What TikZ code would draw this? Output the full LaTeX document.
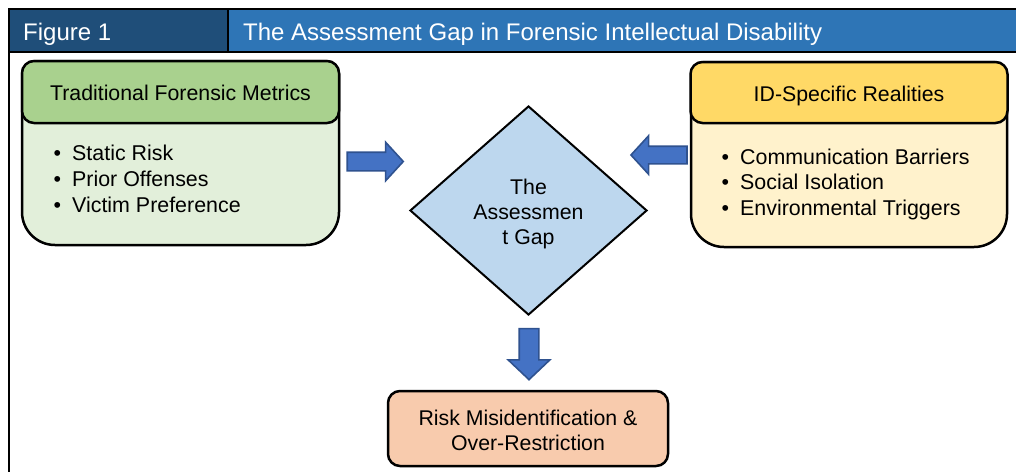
\documentclass[tikz,border=0pt]{standalone}
\usepackage{fontspec}
\setmainfont{Liberation Sans}
\usetikzlibrary{shapes.geometric,shapes.arrows}

\definecolor{figdark}{HTML}{1F4E79}
\definecolor{figblue}{HTML}{2E75B6}
\definecolor{greenhead}{HTML}{A9D18E}
\definecolor{greenbody}{HTML}{E2EFDA}
\definecolor{yellowhead}{HTML}{FFD966}
\definecolor{yellowbody}{HTML}{FFF2CC}
\definecolor{gapfill}{HTML}{BDD7EE}
\definecolor{outfill}{HTML}{F8CBAD}
\definecolor{arrowfill}{HTML}{4472C4}
\definecolor{arrowline}{HTML}{2F528F}

\tikzset{
  frame/.style={line width=2.5pt},
  figtext/.style={text=white,inner sep=0pt,font=\fontsize{24}{28}\selectfont},
  panel/.style={draw=black,line width=2.5pt},
  panelhead/.style={draw=black,line width=2.5pt,rounded corners=12pt,minimum width=317pt,
    minimum height=62pt,inner sep=0pt,text height=17pt,text depth=0pt,
    font=\fontsize{21.3}{25}\selectfont},
  bullets/.style={anchor=west,inner sep=0pt,align=left},
  blockarrow/.style={single arrow,draw=arrowline,fill=arrowfill,line width=1.6pt,
    single arrow head indent=0pt},
}

\begin{document}
\begin{tikzpicture}[x=1pt,y=-1pt]
  \clip (0,0) rectangle (1016,471);
  % title strip
  \fill[figdark] (9,9) rectangle (228,52);
  \fill[figblue] (228,9) rectangle (1030,52);
  \draw[frame] (9,490) -- (9,9) -- (1030,9);
  \draw[frame] (9,52) -- (1030,52) (228,9) -- (228,52);
  \node[figtext,anchor=base west] (T0_0) at (23,40) {Figure 1};
  \node[figtext,anchor=base west] (T0_1) at (243,40) {The Assessment Gap in Forensic Intellectual Disability};

  % left and right panels
  \draw[panel,fill=greenbody] (22,150) [rounded corners=13pt] |- (339,61) -- (339,150)
    [rounded corners=33pt] |- (22,245) -- cycle;
  \node[panelhead,fill=greenhead] (A0_0) at (180.5,92) {Traditional Forensic Metrics};
  \node[bullets,font=\fontsize{21.4}{26}\selectfont] (A1_0) at (53.5,179)
    {\textbullet\hspace{11pt}Static Risk\\ \textbullet\hspace{11pt}Prior Offenses\\ \textbullet\hspace{11pt}Victim Preference};

  \draw[panel,fill=yellowbody] (691,150) [rounded corners=13pt] |- (1007,62) -- (1007,150)
    [rounded corners=33pt] |- (691,247) -- cycle;
  \node[panelhead,fill=yellowhead,minimum height=61pt] (A0_2) at (849,92.5) {ID-Specific Realities};
  \node[bullets,font=\fontsize{21.4}{25.5}\selectfont] (A1_2) at (721.5,184)
    {\textbullet\hspace{11pt}Communication Barriers\\ \textbullet\hspace{11pt}Social Isolation\\ \textbullet\hspace{11pt}Environmental Triggers};

  % centre and outcome
  \node[diamond,draw=black,line width=2pt,fill=gapfill,aspect=1.13,minimum width=237pt,
    minimum height=209pt,inner sep=0pt,align=center,font=\fontsize{21.3}{25}\selectfont]
    (A0_1) at (528.5,210.5) {\rule{0pt}{22.5pt}The\\Assessmen\\t Gap};
  \node[draw=black,line width=2.5pt,rounded corners=12pt,fill=outfill,minimum width=280pt,
    minimum height=75pt,align=center,font=\fontsize{21.3}{25}\selectfont]
    (A2_1) at (528,428.5) {\rule{0pt}{19.5pt}Risk Misidentification \&\\Over-Restriction};

  % block arrows
  \node[blockarrow,minimum height=56pt,inner sep=8.5pt,single arrow head extend=10pt,
    single arrow tip angle=95] (B0_0) at (371,161.5) {};
  \node[blockarrow,minimum height=56pt,inner sep=8pt,single arrow head extend=10.5pt,
    single arrow tip angle=95,shape border rotate=180] (B0_1) at (663,155) {};
  \node[blockarrow,minimum height=51pt,inner sep=9pt,single arrow head extend=11pt,
    single arrow tip angle=93,shape border rotate=270] (B1_0) at (529,349.5) {};
\end{tikzpicture}
\end{document}
